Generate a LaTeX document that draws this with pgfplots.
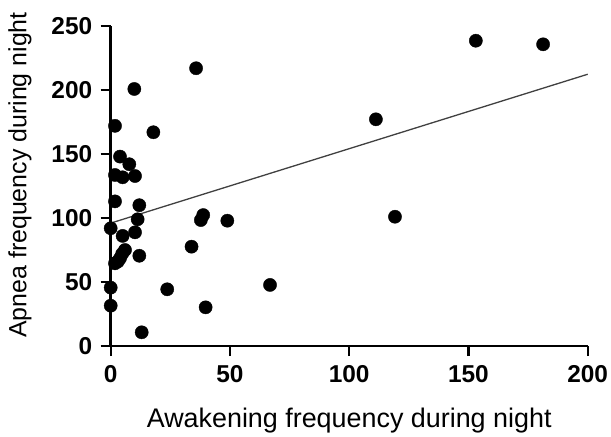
\documentclass[border=0pt]{standalone}
\usepackage{pgfplots}
\pgfplotsset{compat=1.18}
\usepackage{fontspec}
\setmainfont{Liberation Sans}
\begin{document}
\begin{tikzpicture}
\begin{axis}[
  scale only axis,
  width=477bp, height=320bp,
  xmin=0, xmax=200, ymin=0, ymax=250,
  axis x line=bottom, axis y line=left,
  axis line style={-, line width=2.6bp, black},
  xtick={0,50,100,150,200}, ytick={0,50,100,150,200,250},
  tick align=outside,
  major tick length=10bp,
  every tick/.style={black, line width=2.2bp},
  /pgf/number format/assume math mode=true,
  ticklabel style={font=\bfseries\fontsize{24.5}{24.5}\selectfont},
  xticklabel style={yshift=-6bp},
  yticklabel style={xshift=-5bp},
  xlabel={Awakening frequency during night},
  ylabel={Apnea frequency during night},
  xlabel style={font=\fontsize{27}{27}\selectfont, yshift=-18bp},
  ylabel style={font=\fontsize{25}{25}\selectfont, yshift=13bp, xshift=11bp},
  clip=false,
]
\coordinate (ll) at (rel axis cs:0,0);
\addplot[only marks, mark=*, mark size=6.6bp, black] coordinates {
(35.8,217) (9.9,200.8) (1.8,172) (17.9,167) (3.9,148) (7.8,142)
(1.8,133.6) (5,131.8) (10.2,132.8) (1.8,113) (12,110) (11.3,99)
(0,92) (5,86) (10.2,88.8) (6,75) (12,70.5) (3.9,68.5) (1.8,64.6)
(4.8,72) (3,66) (0,45.6) (0,31.5) (23.7,44.3) (13,10.7) (39.8,30.2)
(33.9,77.6) (38.8,102.3) (37.8,98.4) (48.9,97.9) (66.8,47.7)
(153.1,238.5) (181.3,235.7) (111.2,177.1) (119.2,101)
};
\addplot[no marks, line width=1.3bp, black!75] coordinates {(0,96) (200,212.3)};
\end{axis}
\pgfresetboundingbox
\path ([xshift=-110.7bp, yshift=-91bp]ll) rectangle ([xshift=500.3bp, yshift=346bp]ll);
\end{tikzpicture}
\end{document}
